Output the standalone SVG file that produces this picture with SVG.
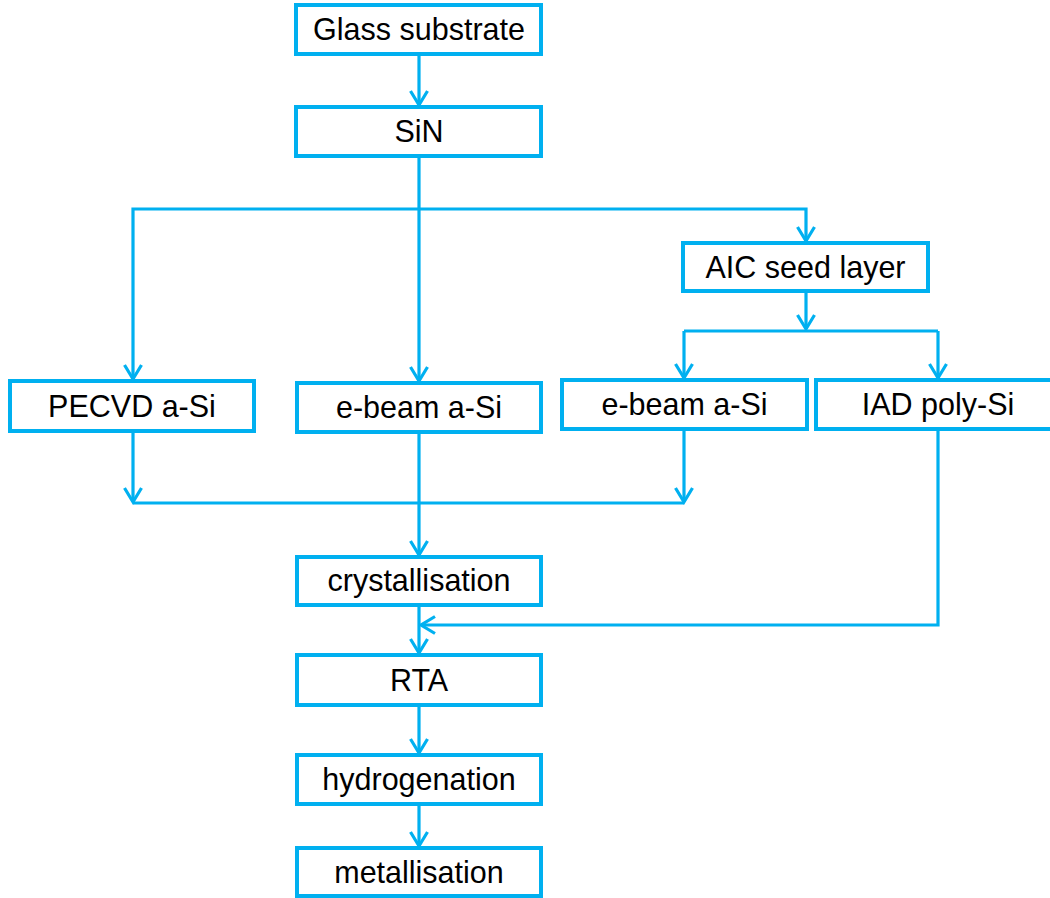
<svg xmlns="http://www.w3.org/2000/svg" width="1050" height="898" viewBox="0 0 1050 898">
<style>
.box{fill:#fff;stroke:#00B0F0;stroke-width:4}
.lbl{font-family:"Liberation Sans",Arial,sans-serif;font-size:30.5px;fill:#000;text-anchor:middle}
.con{fill:none;stroke:#00B0F0;stroke-width:3.2}
</style>
<defs>
<marker id="ah" markerUnits="userSpaceOnUse" markerWidth="30" markerHeight="30" viewBox="-20 -15 30 30" refX="0" refY="0" orient="auto">
<path d="M-14,-8.5 L0,0 L-14,8.5" fill="none" stroke="#00B0F0" stroke-width="3.2"/>
</marker>
</defs>
<rect width="1050" height="898" fill="#fff"/>
<g id="connectors">
<path class="con" d="M419,54 V105" marker-end="url(#ah)"/>
<path class="con" d="M419,156 V381" marker-end="url(#ah)"/>
<path class="con" d="M419,209 H133 V379" marker-end="url(#ah)"/>
<path class="con" d="M419,209 H806 V241" marker-end="url(#ah)"/>
<path class="con" d="M806,291 V329" marker-end="url(#ah)"/>
<path class="con" d="M684,331 H938"/>
<path class="con" d="M684,331 V378" marker-end="url(#ah)"/>
<path class="con" d="M938,331 V378" marker-end="url(#ah)"/>
<path class="con" d="M133,431 V502" marker-end="url(#ah)"/>
<path class="con" d="M684,429 V502" marker-end="url(#ah)"/>
<path class="con" d="M133,503 H684"/>
<path class="con" d="M419,432 V555" marker-end="url(#ah)"/>
<path class="con" d="M938,429 V625 H421" marker-end="url(#ah)"/>
<path class="con" d="M419,605 V653" marker-end="url(#ah)"/>
<path class="con" d="M419,705 V753" marker-end="url(#ah)"/>
<path class="con" d="M419,804 V846" marker-end="url(#ah)"/>
</g>
<g id="n-glass"><rect class="box" x="296" y="5" width="245" height="49"/><text class="lbl" x="419" y="40">Glass substrate</text></g>
<g id="n-sin"><rect class="box" x="296" y="107" width="245" height="49"/><text class="lbl" x="419" y="142">SiN</text></g>
<g id="n-aic"><rect class="box" x="683" y="243" width="245" height="48"/><text class="lbl" x="805.5" y="278">AIC seed layer</text></g>
<g id="n-pecvd"><rect class="box" x="10" y="381" width="244" height="50"/><text class="lbl" x="132" y="417">PECVD a-Si</text></g>
<g id="n-ebeam1"><rect class="box" x="297" y="383" width="244" height="49"/><text class="lbl" x="419" y="418">e-beam a-Si</text></g>
<g id="n-ebeam2"><rect class="box" x="562" y="380" width="245" height="49"/><text class="lbl" x="684.5" y="415">e-beam a-Si</text></g>
<g id="n-iad"><rect class="box" x="816" y="380" width="245" height="49"/><text class="lbl" x="938" y="415">IAD poly-Si</text></g>
<g id="n-cryst"><rect class="box" x="297" y="557" width="244" height="48"/><text class="lbl" x="419" y="591">crystallisation</text></g>
<g id="n-rta"><rect class="box" x="297" y="655" width="244" height="50"/><text class="lbl" x="419" y="691">RTA</text></g>
<g id="n-hydro"><rect class="box" x="297" y="755" width="244" height="49"/><text class="lbl" x="419" y="790">hydrogenation</text></g>
<g id="n-metal"><rect class="box" x="297" y="848" width="244" height="48"/><text class="lbl" x="419" y="883">metallisation</text></g>
</svg>
